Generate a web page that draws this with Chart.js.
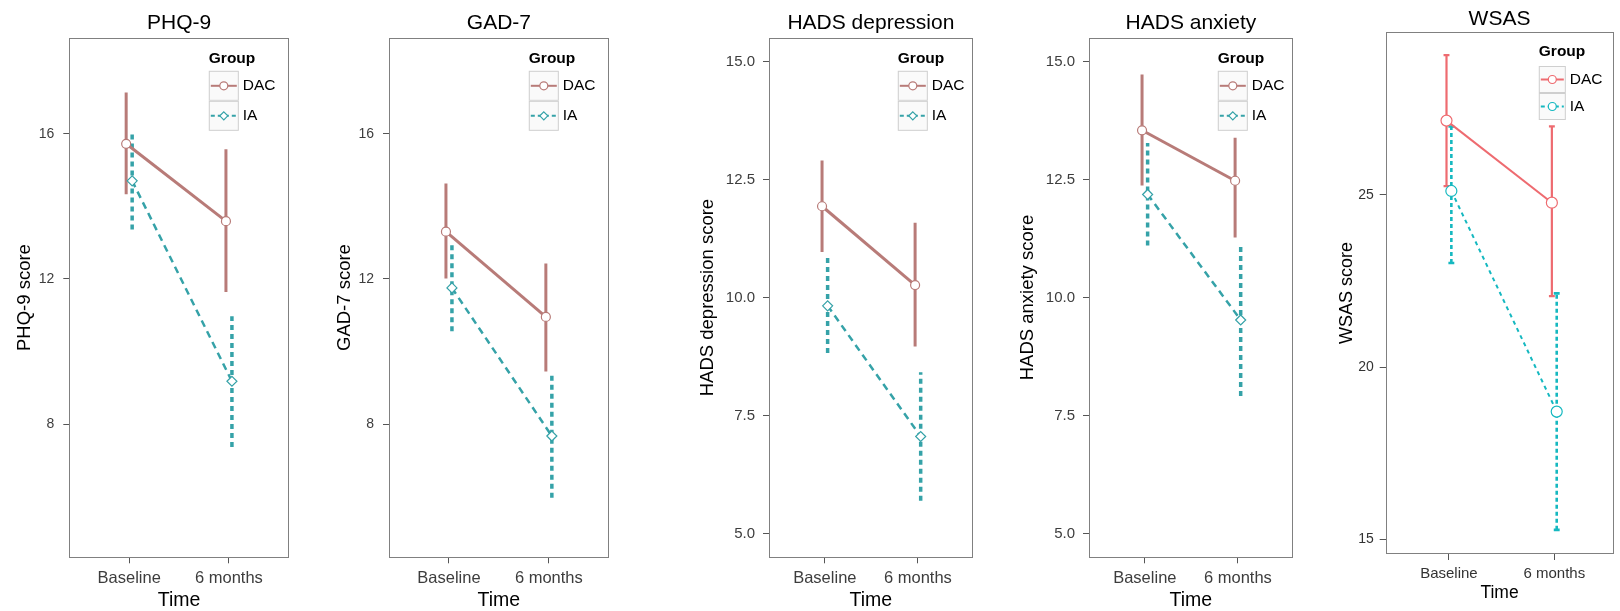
<!DOCTYPE html>
<html>
<head>
<meta charset="utf-8">
<script src="https://cdn.jsdelivr.net/npm/chart.js@4.4.0/dist/chart.umd.min.js"></script>
<style>
  body { margin: 0; background: #fff; width: 1620px; height: 611px; overflow: hidden; position: relative; }
  canvas { position: absolute; top: 0; }
</style>
</head>
<body>
<script>
const timePoints = ['Baseline', '6 months'];
const groups = ['DAC', 'IA'];
const measures = ['PHQ-9', 'GAD-7', 'HADS depression', 'HADS anxiety', 'WSAS'];
const yTitles = ['PHQ-9 score', 'GAD-7 score', 'HADS depression score', 'HADS anxiety score', 'WSAS score'];

// mean and CI limits per measure, [baseline, 6 months]
const dacMean = [[15.72, 13.59], [13.30, 10.95], [11.94, 10.27], [13.55, 12.48], [27.15, 24.77]];
const dacLow  = [[14.33, 11.64], [12.01, 9.45],  [10.97, 8.97],  [12.38, 11.28], [25.25, 22.06]];
const dacHigh = [[17.13, 15.57], [14.63, 12.42], [12.91, 11.59], [14.73, 13.39], [29.05, 26.98]];
const iaMean  = [[14.70, 9.18],  [11.75, 7.67],  [9.83, 7.06],   [12.19, 9.53],  [25.11, 18.71]];
const iaLow   = [[13.36, 7.37],  [10.56, 5.97],  [8.83, 5.70],   [11.11, 7.92],  [23.02, 15.28]];
const iaHigh  = [[16.02, 10.97], [12.95, 9.34],  [10.85, 8.42],  [13.28, 11.10], [26.98, 22.14]];

const yMin = [4.33, 4.33, 4.50, 4.50, 14.58];
const yMax = [18.64, 18.64, 15.51, 15.51, 29.72];
const yTicks = [[8, 12, 16], [8, 12, 16], [5, 7.5, 10, 12.5, 15], [5, 7.5, 10, 12.5, 15], [15, 20, 25]];
const yDecimals = [0, 0, 1, 1, 0];

// panel placement (pixels) and look
const panels = [
  { canvasLeft: 0,    left: 69.3,   top: 37.8, right: 292.3, bottom: 557.3, xMax: 1.6,  yTitleX: 25,   yTickPad: 9, yTickSize: 14, legX: 80, bright: false },
  { canvasLeft: 310,  left: 389,    top: 37.8, right: 611.7, bottom: 557.3, xMax: 1.6,  yTitleX: 35,   yTickPad: 9, yTickSize: 14, legX: 80, bright: false },
  { canvasLeft: 670,  left: 769,    top: 37.8, right: 976,   bottom: 557.3, xMax: 1.59, yTitleX: 38,   yTickPad: 8, yTickSize: 15, legX: 75, bright: false },
  { canvasLeft: 990,  left: 1089,   top: 37.8, right: 1296,  bottom: 557.3, xMax: 1.59, yTitleX: 38,   yTickPad: 8, yTickSize: 15, legX: 75, bright: false },
  { canvasLeft: 1305, left: 1385.7, top: 32,   right: 1617,  bottom: 554,   xMax: 1.56, yTitleX: 41.7, yTickPad: 6, yTickSize: 14, legX: 74.5, bright: true }
];

const muted = {
  dac: '#b87b78', ia: '#35a2a8', lineW: 3, iaLineW: 2.5, iaDash: [7, 5], errW: 3, iaErrW: 3.5, iaErrDash: [5, 4],
  dacPt: 'circle', iaPt: 'rectRot', dacR: 4.5, iaR: 5, dodge: 0.03, cap: 0,
  titleFont: '21px "Liberation Sans", Arial, sans-serif', titleY: 23,
  xTickSize: 16.5, tickColor: '#3d3d3d', axisTitleSize: 18.5, timeSize: 19.5, timePad: 0,
  legTitleY: 20.7, legKeyTop: 33, keyH: 30, keyW: 30, legFont: 15.5
};
const bright = {
  dac: '#ee6b70', ia: '#15b8c0', lineW: 2, iaLineW: 2, iaDash: [4, 4], errW: 2.2, iaErrW: 2.6, iaErrDash: [4, 3],
  dacPt: 'circle', iaPt: 'circle', dacR: 5.5, iaR: 5.5, dodge: 0.023, cap: 0.028,
  titleFont: '21px "Liberation Sans", Arial, sans-serif', titleY: 19.5,
  xTickSize: 15, tickColor: '#333333', axisTitleSize: 18, timeSize: 17.5, timePad: 8.5,
  legTitleY: 19.5, legKeyTop: 34, keyH: 27, keyW: 27, legFont: 15.5
};

const FONT = '"Liberation Sans", Arial, sans-serif';

const panelTitle = {
  id: 'panelTitle',
  afterDraw(chart, args, o) {
    const { ctx, chartArea: a } = chart;
    ctx.save();
    ctx.font = o.font;
    ctx.fillStyle = '#000';
    ctx.textAlign = 'center';
    ctx.textBaseline = 'middle';
    ctx.fillText(o.text, (a.left + a.right) / 2, o.y);
    ctx.restore();
  }
};

const frame = {
  id: 'frame',
  afterDatasetsDraw(chart) {
    const { ctx, chartArea: a } = chart;
    ctx.save();
    ctx.strokeStyle = '#808080';
    ctx.lineWidth = 1;
    ctx.strokeRect(Math.round(a.left) + 0.5, Math.round(a.top) + 0.5, Math.round(a.right - a.left) - 1, Math.round(a.bottom - a.top) - 1);
    ctx.restore();
  }
};

function drawMarker(ctx, style, x, y, r, color) {
  ctx.beginPath();
  if (style === 'rectRot') {
    ctx.moveTo(x, y - r); ctx.lineTo(x + r, y); ctx.lineTo(x, y + r); ctx.lineTo(x - r, y); ctx.closePath();
  } else {
    ctx.arc(x, y, r, 0, Math.PI * 2);
  }
  ctx.fillStyle = '#fff';
  ctx.fill();
  ctx.setLineDash([]);
  ctx.lineWidth = 1.2;
  ctx.strokeStyle = color;
  ctx.stroke();
}

const groupLegend = {
  id: 'groupLegend',
  afterDraw(chart, args, o) {
    const { ctx, chartArea: a } = chart;
    const st = o.st;
    const x0 = a.right - o.legX;
    ctx.save();
    ctx.fillStyle = '#000';
    ctx.textBaseline = 'middle';
    ctx.textAlign = 'left';
    ctx.font = 'bold ' + st.legFont + 'px ' + FONT;
    ctx.fillText('Group', x0, a.top + st.legTitleY);
    groups.forEach((g, k) => {
      const ky = a.top + st.legKeyTop + k * st.keyH;
      ctx.fillStyle = '#fafafa';
      ctx.fillRect(x0, ky, st.keyW, st.keyH);
      ctx.strokeStyle = '#cfcfcf';
      ctx.lineWidth = 1;
      ctx.setLineDash([]);
      ctx.strokeRect(x0 + 0.5, ky + 0.5, st.keyW - 1, st.keyH - 1);
      const color = k === 0 ? st.dac : st.ia;
      const cy = ky + st.keyH / 2;
      ctx.strokeStyle = color;
      ctx.lineWidth = 2;
      ctx.setLineDash(k === 0 ? [] : [4, 3]);
      ctx.beginPath();
      ctx.moveTo(x0 + 2, cy);
      ctx.lineTo(x0 + st.keyW - 2, cy);
      ctx.stroke();
      drawMarker(ctx, k === 0 ? st.dacPt : st.iaPt, x0 + st.keyW / 2, cy, 4, color);
      ctx.fillStyle = '#000';
      ctx.font = st.legFont + 'px ' + FONT;
      ctx.fillText(g, x0 + st.keyW + 4, cy);
    });
    ctx.restore();
  }
};

function errorBar(x, lo, hi, color, width, dash, cap) {
  const sets = [{
    data: [{ x: x, y: lo }, { x: x, y: hi }],
    showLine: true, borderColor: color, borderWidth: width, borderDash: dash,
    pointRadius: 0, borderCapStyle: 'butt', order: 3
  }];
  if (cap > 0) {
    [lo, hi].forEach(v => sets.push({
      data: [{ x: x - cap, y: v }, { x: x + cap, y: v }],
      showLine: true, borderColor: color, borderWidth: width, pointRadius: 0, order: 3
    }));
  }
  return sets;
}

measures.forEach((name, i) => {
  const p = panels[i];
  const st = p.bright ? bright : muted;
  const cv = document.createElement('canvas');
  const padRight = 3;
  const w = Math.round(p.right - p.canvasLeft + padRight);
  cv.width = w;
  cv.height = 611;
  cv.style.left = p.canvasLeft + 'px';
  cv.style.width = w + 'px';
  cv.style.height = '611px';
  document.body.appendChild(cv);

  const d = st.dodge;
  let datasets = [];
  [0, 1].forEach(t => {
    datasets = datasets.concat(errorBar(t - d, dacLow[i][t], dacHigh[i][t], st.dac, st.errW, [], st.cap));
    datasets = datasets.concat(errorBar(t + d, iaLow[i][t], iaHigh[i][t], st.ia, st.iaErrW, st.iaErrDash, st.cap));
  });
  datasets.push({
    label: groups[0],
    data: [0, 1].map(t => ({ x: t - d, y: dacMean[i][t] })),
    showLine: true, borderColor: st.dac, borderWidth: st.lineW,
    pointStyle: st.dacPt, pointRadius: st.dacR, pointBackgroundColor: '#fff',
    pointBorderColor: st.dac, pointBorderWidth: 1.2, order: 1
  });
  datasets.push({
    label: groups[1],
    data: [0, 1].map(t => ({ x: t + d, y: iaMean[i][t] })),
    showLine: true, borderColor: st.ia, borderWidth: st.iaLineW, borderDash: st.iaDash,
    pointStyle: st.iaPt, pointRadius: st.iaR, pointBackgroundColor: '#fff',
    pointBorderColor: st.ia, pointBorderWidth: 1.2, order: 2
  });

  const yLH = 1.2;
  new Chart(cv, {
    type: 'scatter',
    data: { datasets },
    plugins: [frame, panelTitle, groupLegend],
    options: {
      responsive: false,
      devicePixelRatio: 1,
      animation: false,
      events: [],
      layout: { padding: { top: p.top, right: padRight, bottom: 0, left: 0 } },
      plugins: {
        legend: { display: false },
        tooltip: { enabled: false },
        panelTitle: { text: name, font: st.titleFont, y: st.titleY },
        groupLegend: { st: st, legX: p.legX }
      },
      scales: {
        x: {
          type: 'linear',
          min: -0.6,
          max: p.xMax,
          afterBuildTicks: s => { s.ticks = [{ value: 0 }, { value: 1 }]; },
          afterFit: s => { s.height = 611 - p.bottom; },
          ticks: {
            callback: v => timePoints[v],
            font: { family: FONT, size: st.xTickSize },
            color: st.tickColor,
            padding: 5,
            maxRotation: 0,
            autoSkip: false
          },
          grid: { display: true, drawOnChartArea: false, drawTicks: true, tickLength: 6, color: '#555' },
          border: { display: false },
          title: {
            display: true, text: 'Time', color: '#000',
            font: { family: FONT, size: st.timeSize, lineHeight: 1.1 },
            padding: { top: 0, bottom: st.timePad }
          }
        },
        y: {
          type: 'linear',
          min: yMin[i],
          max: yMax[i],
          afterBuildTicks: s => { s.ticks = yTicks[i].map(v => ({ value: v })); },
          afterFit: s => { s.width = p.left - p.canvasLeft; },
          ticks: {
            callback: v => v.toFixed(yDecimals[i]),
            font: { family: FONT, size: p.yTickSize },
            color: st.tickColor,
            padding: p.yTickPad,
            autoSkip: false
          },
          grid: { display: true, drawOnChartArea: false, drawTicks: true, tickLength: 6, color: '#555' },
          border: { display: false },
          title: {
            display: true, text: yTitles[i], color: '#000',
            font: { family: FONT, size: st.axisTitleSize, lineHeight: yLH },
            padding: { top: p.yTitleX - st.axisTitleSize * yLH / 2, bottom: 0 }
          }
        }
      }
    }
  });
});
</script>
</body>
</html>
